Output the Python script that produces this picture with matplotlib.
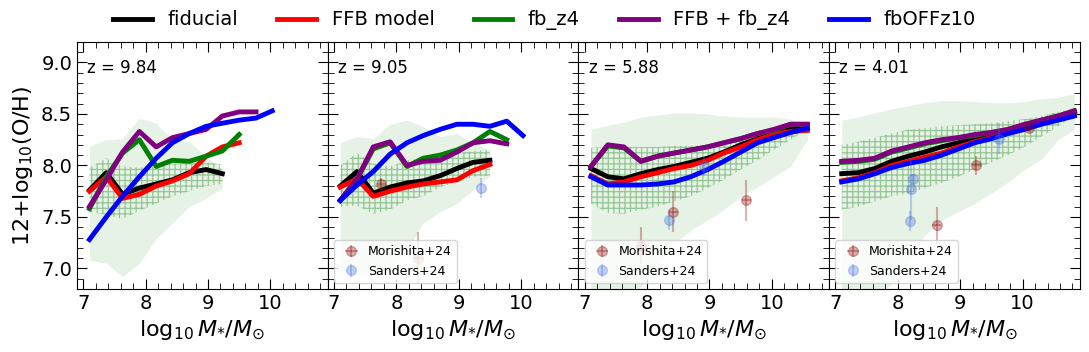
import numpy as np
import matplotlib
matplotlib.use("Agg")
import matplotlib.pyplot as plt
from matplotlib.ticker import MultipleLocator

plt.rcParams["hatch.linewidth"] = 0.9

# stellar-mass bins (log10 M*/Msun)
mbins = [7.10, 7.37, 7.63, 7.90, 8.17, 8.43, 8.70, 8.97, 9.23, 9.50,
         9.77, 10.03, 10.30, 10.57, 10.83]

redshifts = ["9.84", "9.05", "5.88", "4.01"]

# model medians, one list per panel (first N bins)
fiducial = [
    [7.76, 7.93, 7.72, 7.78, 7.82, 7.86, 7.93, 7.96, 7.92],
    [7.80, 7.94, 7.73, 7.79, 7.83, 7.85, 7.90, 7.97, 8.03, 8.05],
    [7.97, 7.89, 7.87, 7.92, 7.96, 7.99, 8.03, 8.07, 8.13, 8.20, 8.26, 8.31, 8.36, 8.35],
    [7.92, 7.93, 7.97, 8.04, 8.09, 8.13, 8.18, 8.22, 8.26, 8.30, 8.33, 8.38, 8.43, 8.47, 8.52],
]
ffb_model = [
    [7.75, 7.89, 7.68, 7.72, 7.80, 7.85, 7.92, 8.09, 8.18, 8.22],
    [7.79, 7.87, 7.70, 7.75, 7.79, 7.82, 7.84, 7.86, 7.95, 8.01],
    [7.90, 7.82, 7.84, 7.89, 7.93, 7.97, 8.00, 8.05, 8.12, 8.18, 8.25, 8.30, 8.33, 8.34],
    [7.85, 7.88, 7.93, 8.00, 8.04, 8.08, 8.12, 8.18, 8.23, 8.27, 8.32, 8.36, 8.41, 8.45, 8.49],
]
fb_z4 = [
    [7.58, 7.89, 8.12, 8.25, 7.99, 8.05, 8.04, 8.09, 8.14, 8.30],
    [7.66, 7.87, 8.16, 8.22, 7.99, 8.07, 8.10, 8.15, 8.22, 8.33, 8.25],
    [7.99, 8.19, 8.17, 8.04, 8.09, 8.12, 8.15, 8.18, 8.22, 8.26, 8.31, 8.34, 8.40, 8.40],
    [8.03, 8.04, 8.06, 8.13, 8.17, 8.21, 8.24, 8.27, 8.29, 8.32, 8.35, 8.39, 8.44, 8.48, 8.53],
]
ffb_fb_z4 = [
    [7.60, 7.86, 8.13, 8.33, 8.18, 8.27, 8.31, 8.35, 8.48, 8.52, 8.52],
    [7.66, 7.87, 8.18, 8.23, 8.00, 8.04, 8.05, 8.13, 8.22, 8.24, 8.21],
    [7.99, 8.20, 8.18, 8.04, 8.09, 8.12, 8.15, 8.18, 8.22, 8.26, 8.31, 8.35, 8.40, 8.40],
    [8.04, 8.05, 8.07, 8.14, 8.18, 8.22, 8.25, 8.27, 8.30, 8.32, 8.35, 8.40, 8.44, 8.48, 8.53],
]
fb_off_z10 = [
    [7.28, 7.50, 7.70, 7.89, 8.07, 8.22, 8.31, 8.38, 8.41, 8.44, 8.46, 8.53],
    [7.66, 7.81, 7.94, 8.11, 8.22, 8.29, 8.35, 8.40, 8.40, 8.38, 8.43, 8.29],
    [7.89, 7.81, 7.81, 7.81, 7.82, 7.84, 7.89, 7.96, 8.04, 8.13, 8.22, 8.27, 8.32, 8.36],
    [7.84, 7.87, 7.92, 7.98, 8.02, 8.05, 8.10, 8.16, 8.22, 8.26, 8.31, 8.35, 8.40, 8.44, 8.48],
]

# fiducial scatter: outer band and inner (hatched) band
outer_hi = [
    [8.19, 8.25, 8.26, 8.46, 8.41, 8.25, 8.23, 8.09, 7.96],
    [8.22, 8.28, 8.26, 8.40, 8.44, 8.38, 8.28, 8.31, 8.22, 8.15],
    [8.35, 8.39, 8.42, 8.47, 8.49, 8.51, 8.51, 8.50, 8.48, 8.47, 8.47, 8.47, 8.45, 8.38],
    [8.44, 8.47, 8.51, 8.55, 8.58, 8.61, 8.63, 8.63, 8.62, 8.61, 8.61, 8.62, 8.65, 8.66, 8.70],
]
outer_lo = [
    [7.08, 7.05, 6.92, 7.05, 7.29, 7.44, 7.60, 7.68, 7.78],
    [6.98, 6.93, 6.92, 7.00, 7.18, 7.44, 7.55, 7.63, 7.76, 7.90],
    [6.60, 6.60, 6.70, 6.82, 7.05, 7.24, 7.37, 7.47, 7.57, 7.70, 7.79, 7.89, 7.99, 8.25],
    [6.60, 6.60, 6.70, 6.85, 7.05, 7.32, 7.47, 7.55, 7.63, 7.73, 7.84, 7.96, 8.06, 8.25, 8.35],
]
inner_hi = [
    [7.98, 8.07, 7.99, 7.98, 7.99, 8.02, 8.02, 8.03, 8.01],
    [8.00, 8.12, 8.02, 7.99, 8.05, 8.07, 8.09, 8.12, 8.14, 8.15],
    [8.17, 8.18, 8.18, 8.18, 8.18, 8.19, 8.19, 8.20, 8.23, 8.27, 8.31, 8.35, 8.38, 8.40],
    [8.20, 8.23, 8.27, 8.31, 8.35, 8.36, 8.38, 8.39, 8.40, 8.41, 8.43, 8.45, 8.48, 8.52, 8.56],
]
inner_lo = [
    [7.55, 7.52, 7.48, 7.56, 7.63, 7.70, 7.75, 7.80, 7.82],
    [7.60, 7.61, 7.53, 7.57, 7.66, 7.70, 7.79, 7.84, 7.89, 7.90],
    [7.63, 7.54, 7.53, 7.57, 7.60, 7.65, 7.70, 7.78, 7.86, 7.96, 8.05, 8.15, 8.25, 8.35],
    [7.57, 7.60, 7.65, 7.70, 7.73, 7.78, 7.83, 7.89, 7.96, 8.03, 8.10, 8.18, 8.28, 8.38, 8.48],
]

# observations (None = no data in that panel)
mori_x = [None, [7.76, 8.35], [7.91, 8.42, 9.59], [8.62, 9.26, 10.10]]
mori_y = [None, [7.82, 7.10], [7.22, 7.55, 7.66], [7.42, 8.00, 8.36]]
mori_err = [None, [0.06, 0.25], [0.18, 0.20, 0.20], [0.18, 0.09, 0.04]]
sand_x = [None, [9.36], [8.35, 8.91], [8.19, 8.21, 8.24, 9.63]]
sand_y = [None, [7.78], [7.47, 7.99], [7.46, 7.77, 7.87, 8.26]]
sand_err = [None, [0.10], [0.10, 0.09], [0.10, 0.30, 0.05, 0.15]]

models = [
    ("fiducial", fiducial, "black"),
    ("FFB model", ffb_model, "red"),
    ("fb_z4", fb_z4, "green"),
    ("FFB + fb_z4", ffb_fb_z4, "purple"),
    ("fbOFFz10", fb_off_z10, "blue"),
]

fig, axes = plt.subplots(1, 4, figsize=(10.89, 3.52), dpi=100, sharey=True)
fig.subplots_adjust(left=0.0707, right=0.9917, bottom=0.179, top=0.881, wspace=0)

model_handles = []
for i, ax in enumerate(axes):
    xs = mbins[:len(outer_hi[i])]
    ax.fill_between(xs, outer_lo[i], outer_hi[i], color="green", alpha=0.1, lw=0)
    xs = mbins[:len(inner_hi[i])]
    ax.fill_between(xs, inner_lo[i], inner_hi[i], facecolor="none",
                    edgecolor=(0.0, 0.45, 0.0, 0.35), hatch="+++", lw=0)

    for label, vals, col in models:
        v = vals[i]
        ln, = ax.plot(mbins[:len(v)], v, color=col, lw=3.5, label=label)
        if i == 0:
            model_handles.append(ln)

    if mori_x[i] is not None:
        m = ax.errorbar(mori_x[i], mori_y[i], yerr=mori_err[i], xerr=0.07, fmt="o",
                        color="darkred", alpha=0.3, ms=7)
        s = ax.errorbar(sand_x[i], sand_y[i], yerr=sand_err[i], fmt="o",
                        color="royalblue", alpha=0.3, ms=7)
        ax.legend([m, s], ["Morishita+24", "Sanders+24"], loc="lower left",
                  fontsize=9, handletextpad=0.3)

    ax.text(0.04, 0.93, "z = " + redshifts[i], transform=ax.transAxes,
            fontsize=12, va="top", ha="left")

    ax.set_xlim(6.9, 10.92)
    ax.set_ylim(6.8, 9.2)
    ax.xaxis.set_major_locator(MultipleLocator(1))
    ax.xaxis.set_minor_locator(MultipleLocator(0.2))
    ax.yaxis.set_major_locator(MultipleLocator(0.5))
    ax.yaxis.set_minor_locator(MultipleLocator(0.1))
    ax.tick_params(which="both", direction="in", top=True, right=True, labelsize=14)
    ax.tick_params(which="major", length=7)
    ax.tick_params(which="minor", length=4)
    ax.set_xlabel(r"$\log_{10} M_{*}/M_{\odot}$", fontsize=16)

axes[0].set_ylabel(r"12+log$_{10}$(O/H)", fontsize=16)

fig.legend(handles=model_handles, loc="upper center", bbox_to_anchor=(0.5, 1.02),
           ncol=5, fontsize=14, frameon=False)

fig.savefig("out.png", dpi=100)
